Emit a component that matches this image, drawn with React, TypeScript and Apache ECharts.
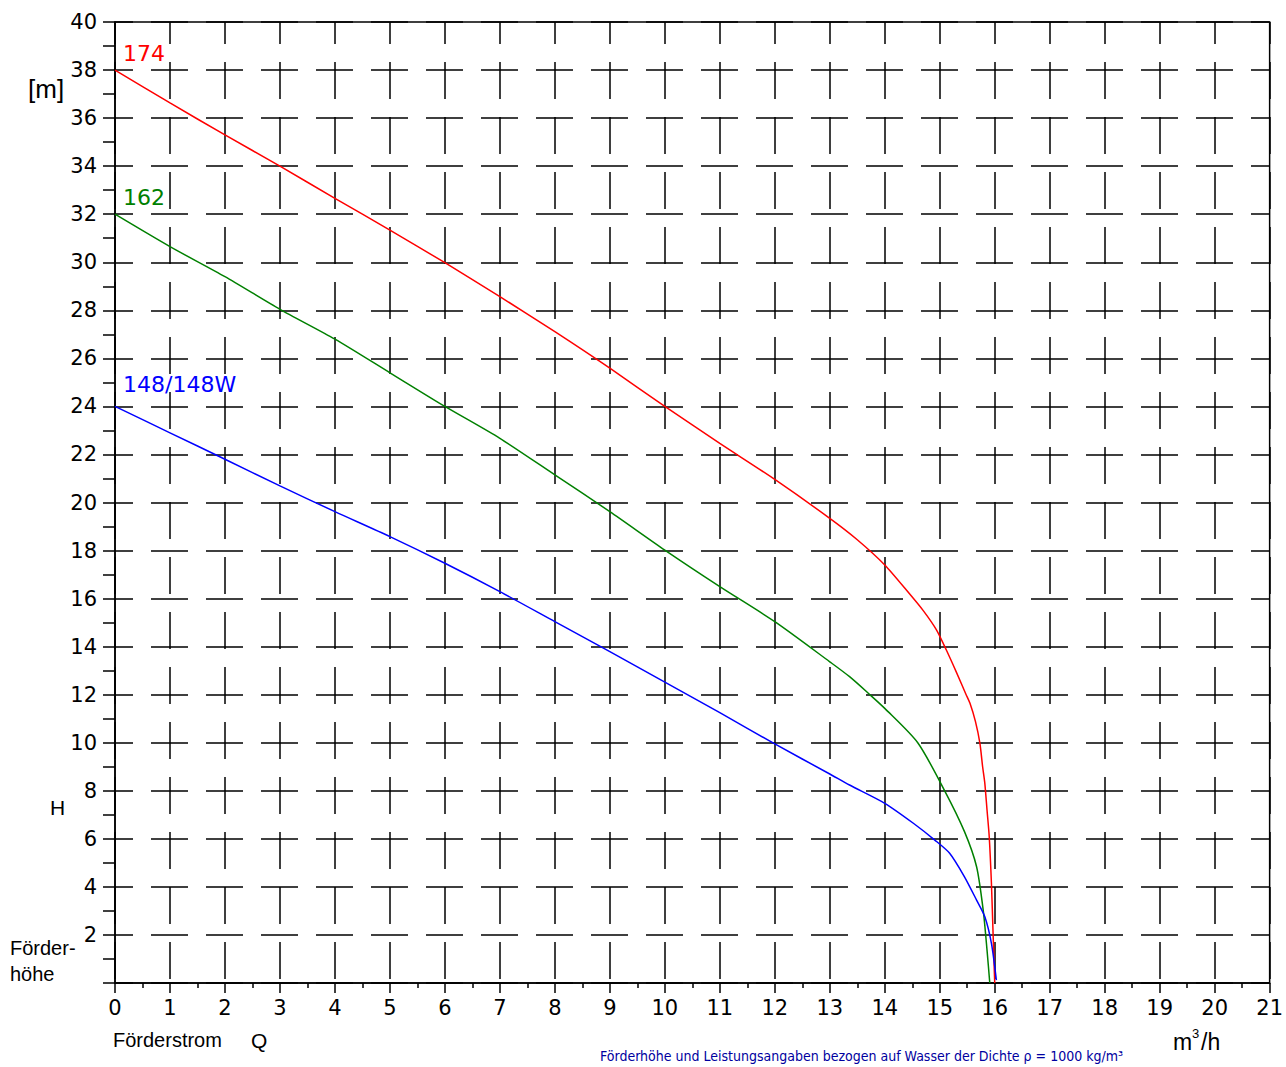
import React, { useEffect, useRef } from 'react';
import * as echarts from 'echarts';

const xMin = 0;
const xMax = 21;
const yMin = 0;
const yMax = 40;

const curve174 = [
  [0, 38], [1, 36.63], [2, 35.3], [3, 34.0], [4, 32.66], [5, 31.34], [6, 29.98], [7, 28.57],
  [8, 27.11], [9, 25.59], [10, 24.0], [11, 22.46], [12, 20.96], [13, 19.34], [13.5, 18.45],
  [14, 17.4], [14.45, 16.2], [14.7, 15.5], [14.94, 14.7], [15.12, 13.86], [15.3, 12.95],
  [15.48, 12.0], [15.55, 11.64], [15.65, 10.88], [15.73, 9.98], [15.78, 9.0], [15.82, 8.31],
  [15.86, 7.2], [15.9, 6.09], [15.94, 4.15], [15.97, 2.07], [16.0, 0],
];

const curve162 = [
  [0, 32], [1, 30.65], [2, 29.4], [3, 28.04], [4, 26.8], [5, 25.4], [6, 24.0], [7, 22.67],
  [8, 21.15], [9, 19.62], [10, 18.02], [11, 16.5], [12, 15.04], [13, 13.37], [13.36, 12.75],
  [13.73, 12.0], [14, 11.43], [14.6, 10.0], [15.09, 8.0], [15.45, 6.3], [15.67, 4.84],
  [15.79, 3.04], [15.86, 1.37], [15.91, 0],
];

const curve148 = [
  [0, 24], [1, 22.9], [2, 21.8], [3, 20.69], [4, 19.62], [5, 18.58], [6, 17.47], [7, 16.29],
  [8, 15.04], [9, 13.79], [10, 12.52], [11, 11.25], [12, 9.95], [13, 8.7], [13.36, 8.24],
  [14, 7.48], [14.52, 6.65], [14.91, 5.95], [15.18, 5.4], [15.45, 4.42], [15.67, 3.45],
  [15.82, 2.76], [15.94, 1.65], [16.03, 0.12],
];

const curveNames = ['174', '162', '148/148W'];
const curveColors = ['#ff0000', '#008000', '#0000ff'];

const yAxisUnit = '[m]';
const yAxisSymbol = 'H';
const yAxisTitle = ['Förder-', 'höhe'];
const xAxisTitle = 'Förderstrom';
const xAxisSymbol = 'Q';
const xAxisUnitParts = ['m', '3', '/h'];
const footNote = 'Förderhöhe und Leistungsangaben bezogen auf Wasser der Dichte ρ = 1000 kg/m³';

export default function App() {
  const ref = useRef<HTMLDivElement>(null);

  useEffect(() => {
    const chart = echarts.init(ref.current!, null, { renderer: 'svg' });
    const digitFont = 'DejaVu Sans';
    const textFont = 'Liberation Sans';
    const black = '#000';

    const series = [curve174, curve162, curve148].map((d, i) => ({
      type: 'line',
      name: curveNames[i],
      data: d,
      showSymbol: false,
      symbol: 'none',
      smooth: 0.25,
      silent: true,
      z: 5,
      lineStyle: { color: curveColors[i], width: 1.5 },
    }));

    chart.setOption({
      animation: false,
      backgroundColor: '#fff',
      grid: {
        left: 115, right: 16, top: 22, bottom: 84,
        show: true, borderColor: black, borderWidth: 1.5, backgroundColor: 'transparent',
      },
      xAxis: {
        type: 'value', min: xMin, max: xMax, interval: 1,
        axisLine: { show: true, onZero: false, lineStyle: { color: black, width: 1.5 } },
        axisTick: { show: true, length: 10, lineStyle: { color: black, width: 1.5 } },
        minorTick: { show: true, splitNumber: 2, length: 5, lineStyle: { color: black, width: 1.5 } },
        axisLabel: { color: black, fontSize: 21, fontFamily: digitFont, margin: 14 },
        splitLine: { show: true, lineStyle: { color: black, width: 1.5, type: [37, 18], dashOffset: 15 } },
      },
      yAxis: {
        type: 'value', min: yMin, max: yMax, interval: 2,
        axisLine: { show: true, onZero: false, lineStyle: { color: black, width: 1.5 } },
        axisTick: { show: true, length: 12, lineStyle: { color: black, width: 1.5 } },
        minorTick: { show: true, splitNumber: 2, length: 12, lineStyle: { color: black, width: 1.5 } },
        axisLabel: {
          color: black, fontSize: 21, fontFamily: digitFont, margin: 18,
          formatter: (v: number) => (v === 0 ? '' : String(v)),
        },
        splitLine: { show: true, lineStyle: { color: black, width: 1.5, type: [37, 18], dashOffset: 18.5 } },
      },
      series,
    });

    const offsets = [[8, -17], [8, -17], [8, -22]];
    const curves = [curve174, curve162, curve148];
    const graphic: any[] = curves.map((c, i) => {
      const p = chart.convertToPixel({ gridIndex: 0 }, c[0]) as number[];
      return {
        type: 'text',
        x: p[0] + offsets[i][0],
        y: p[1] + offsets[i][1],
        style: {
          text: curveNames[i], fill: curveColors[i], font: `22px '${digitFont}'`,
          textVerticalAlign: 'middle', textAlign: 'left',
        },
        z: 10,
      };
    });

    const txt = (text: string, x: number, y: number, size: number, extra: any = {}) => ({
      type: 'text', x, y, z: 10,
      style: { text, fill: black, font: `${size}px '${textFont}'`, textVerticalAlign: 'top', textAlign: 'left', ...extra },
    });

    graphic.push(txt(yAxisUnit, 28, 76, 26));
    graphic.push(txt(yAxisSymbol, 50, 797, 21));
    graphic.push(txt(yAxisTitle[0], 10, 938, 20));
    graphic.push(txt(yAxisTitle[1], 10, 964, 20));
    graphic.push(txt(xAxisTitle, 113, 1030, 20));
    graphic.push(txt(xAxisSymbol, 251, 1030, 21));
    graphic.push(txt(xAxisUnitParts[0], 1173, 1030, 23));
    graphic.push(txt(xAxisUnitParts[1], 1192, 1027, 13));
    graphic.push(txt(xAxisUnitParts[2], 1201, 1030, 23));
    graphic.push({
      type: 'text', x: 600, y: 1049, z: 10,
      style: {
        text: footNote, fill: '#0000a0',
        font: `14px 'Liberation Sans Narrow', 'DejaVu Sans Condensed', sans-serif`,
        textVerticalAlign: 'top', textAlign: 'left',
      },
    });

    chart.setOption({ graphic });

    return () => chart.dispose();
  }, []);

  return (
    <div
      ref={ref}
      style={{ position: 'absolute', left: 0, top: 0, width: 1286, height: 1067, background: '#fff' }}
    />
  );
}
